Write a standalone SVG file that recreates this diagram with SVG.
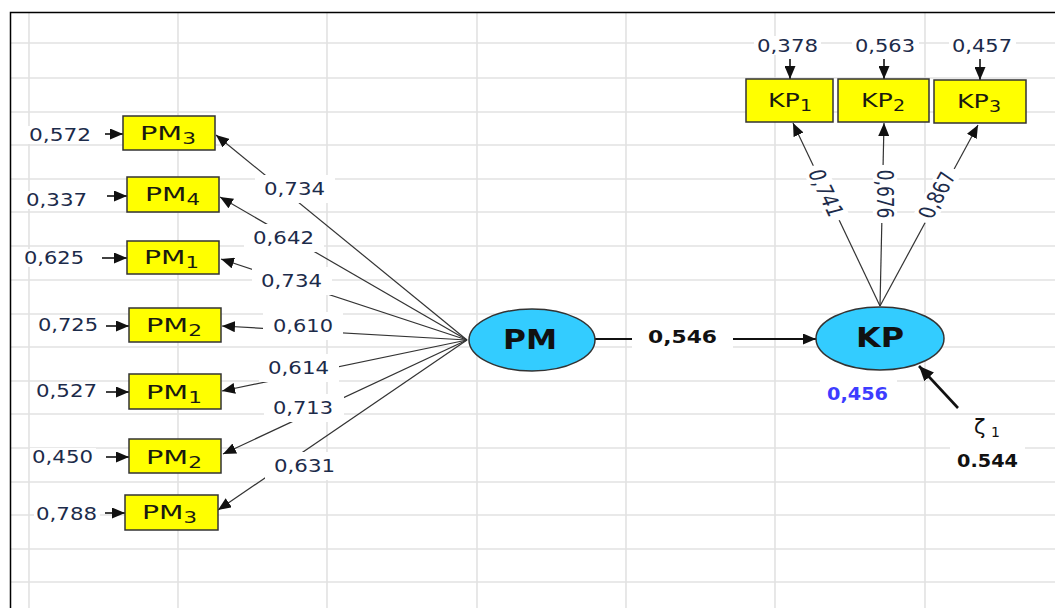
<svg xmlns="http://www.w3.org/2000/svg" width="1055" height="608" viewBox="0 0 1055 608">
<style>
.grid line{stroke:#e2e2e2;stroke-width:1.6}
.box{fill:#ffff00;stroke:#333;stroke-width:1.5}
.ell{fill:#33ccff;stroke:#333;stroke-width:1.5}
.bt{font-family:"DejaVu Sans",sans-serif;font-size:20px;fill:#1a1a10}
.sub{font-size:15px}
.et{font-family:"DejaVu Sans",sans-serif;font-size:26px;font-weight:bold;fill:#111}
.lbl{font-family:"DejaVu Sans",sans-serif;font-size:18px;fill:#1c2b4a}
.rl{font-family:"DejaVu Sans",sans-serif;font-size:17px;fill:#1c2b4a}
.bl{font-family:"DejaVu Sans",sans-serif;font-size:17px;font-weight:bold;fill:#111}
.bg{fill:#fff}
.ln{stroke:#333;stroke-width:1.2;fill:none}
.lk{stroke:#111;stroke-width:1.6;fill:none}
</style>
<defs>
<marker id="ah" markerUnits="userSpaceOnUse" markerWidth="13" markerHeight="11" refX="13" refY="5.5" orient="auto"><path d="M0,0 L13,5.5 L0,11 z" fill="#111"/></marker>
<marker id="ahb" markerUnits="userSpaceOnUse" markerWidth="15" markerHeight="13" refX="15" refY="6.5" orient="auto"><path d="M0,0 L15,6.5 L0,13 z" fill="#111"/></marker>
</defs>
<rect width="1055" height="608" fill="#fff"/>
<g class="grid">
<line x1="29" y1="12" x2="29" y2="608"/><line x1="178" y1="12" x2="178" y2="608"/><line x1="327" y1="12" x2="327" y2="608"/><line x1="477" y1="12" x2="477" y2="608"/><line x1="626" y1="12" x2="626" y2="608"/><line x1="775" y1="12" x2="775" y2="608"/><line x1="925" y1="12" x2="925" y2="608"/>
<line x1="10" y1="43" x2="1055" y2="43"/><line x1="10" y1="78" x2="1055" y2="78"/><line x1="10" y1="112" x2="1055" y2="112"/><line x1="10" y1="145" x2="1055" y2="145"/><line x1="10" y1="179" x2="1055" y2="179"/><line x1="10" y1="212" x2="1055" y2="212"/><line x1="10" y1="246" x2="1055" y2="246"/><line x1="10" y1="280" x2="1055" y2="280"/><line x1="10" y1="314" x2="1055" y2="314"/><line x1="10" y1="347" x2="1055" y2="347"/><line x1="10" y1="381" x2="1055" y2="381"/><line x1="10" y1="414" x2="1055" y2="414"/><line x1="10" y1="448" x2="1055" y2="448"/><line x1="10" y1="482" x2="1055" y2="482"/><line x1="10" y1="515" x2="1055" y2="515"/><line x1="10" y1="549" x2="1055" y2="549"/><line x1="10" y1="582" x2="1055" y2="582"/>
</g>
<path d="M10.5,608 V12.5 H1055" fill="none" stroke="#000" stroke-width="1.5"/>
<g id="connectors">
<line class="lk" x1="105" y1="134" x2="123" y2="134" marker-end="url(#ah)"/>
<line class="lk" x1="107" y1="196" x2="127" y2="196" marker-end="url(#ah)"/>
<line class="lk" x1="102" y1="258" x2="127" y2="258" marker-end="url(#ah)"/>
<line class="lk" x1="106" y1="326" x2="129" y2="326" marker-end="url(#ah)"/>
<line class="lk" x1="106" y1="392" x2="129" y2="392" marker-end="url(#ah)"/>
<line class="lk" x1="106" y1="457" x2="129" y2="457" marker-end="url(#ah)"/>
<line class="lk" x1="105" y1="513" x2="125" y2="513" marker-end="url(#ah)"/>
<line class="ln" x1="467" y1="340" x2="216" y2="135" marker-end="url(#ah)"/>
<line class="ln" x1="467" y1="340" x2="220" y2="197" marker-end="url(#ah)"/>
<line class="ln" x1="467" y1="340" x2="221" y2="259" marker-end="url(#ah)"/>
<line class="ln" x1="467" y1="340" x2="222" y2="326" marker-end="url(#ah)"/>
<line class="ln" x1="467" y1="340" x2="222" y2="391" marker-end="url(#ah)"/>
<line class="ln" x1="467" y1="340" x2="223" y2="454" marker-end="url(#ah)"/>
<line class="ln" x1="467" y1="340" x2="218" y2="510" marker-end="url(#ah)"/>
<line class="ln" x1="880" y1="306" x2="793" y2="123" marker-end="url(#ah)"/>
<line class="ln" x1="880" y1="306" x2="884" y2="123" marker-end="url(#ah)"/>
<line class="ln" x1="880" y1="306" x2="978" y2="125" marker-end="url(#ah)"/>
<line class="lk" x1="790" y1="59" x2="790" y2="79" marker-end="url(#ah)"/>
<line class="lk" x1="884" y1="59" x2="884" y2="79" marker-end="url(#ah)"/>
<line class="lk" x1="980" y1="59" x2="980" y2="80" marker-end="url(#ah)"/>
<line x1="595" y1="339" x2="816" y2="339" stroke="#111" stroke-width="2.2" marker-end="url(#ah)"/>
<line x1="958" y1="408" x2="919" y2="366" stroke="#111" stroke-width="2.6" marker-end="url(#ahb)"/>
<g>
<rect class="bg" x="255" y="175" width="80" height="28"/><text class="lbl" x="264" y="195" textLength="61" lengthAdjust="spacingAndGlyphs">0,734</text>
<rect class="bg" x="244" y="224" width="80" height="28"/><text class="lbl" x="253" y="244" textLength="61" lengthAdjust="spacingAndGlyphs">0,642</text>
<rect class="bg" x="252" y="267" width="80" height="28"/><text class="lbl" x="261" y="287" textLength="61" lengthAdjust="spacingAndGlyphs">0,734</text>
<rect class="bg" x="263" y="312" width="80" height="28"/><text class="lbl" x="273" y="332" textLength="60" lengthAdjust="spacingAndGlyphs">0,610</text>
<rect class="bg" x="259" y="354" width="80" height="28"/><text class="lbl" x="268" y="374" textLength="61" lengthAdjust="spacingAndGlyphs">0,614</text>
<rect class="bg" x="264" y="394" width="80" height="28"/><text class="lbl" x="273" y="414" textLength="60" lengthAdjust="spacingAndGlyphs">0,713</text>
<rect class="bg" x="265" y="452" width="80" height="28"/><text class="lbl" x="274" y="472" textLength="61" lengthAdjust="spacingAndGlyphs">0,631</text>
<rect class="bg" x="27" y="126" width="66" height="18"/><text class="lbl" x="29" y="141" textLength="62" lengthAdjust="spacingAndGlyphs">0,572</text>
<rect class="bg" x="24" y="191" width="66" height="18"/><text class="lbl" x="26" y="206" textLength="61" lengthAdjust="spacingAndGlyphs">0,337</text>
<rect class="bg" x="22" y="249" width="66" height="18"/><text class="lbl" x="24" y="264" textLength="60" lengthAdjust="spacingAndGlyphs">0,625</text>
<rect class="bg" x="36" y="316" width="66" height="18"/><text class="lbl" x="38" y="331" textLength="60" lengthAdjust="spacingAndGlyphs">0,725</text>
<rect class="bg" x="34" y="382" width="66" height="18"/><text class="lbl" x="36" y="397" textLength="61" lengthAdjust="spacingAndGlyphs">0,527</text>
<rect class="bg" x="30" y="448" width="66" height="18"/><text class="lbl" x="32" y="463" textLength="61" lengthAdjust="spacingAndGlyphs">0,450</text>
<rect class="bg" x="34" y="505" width="66" height="18"/><text class="lbl" x="36" y="520" textLength="61" lengthAdjust="spacingAndGlyphs">0,788</text>
<rect class="bg" x="754" y="36" width="67" height="19"/><text class="lbl" x="757" y="52" textLength="61" lengthAdjust="spacingAndGlyphs">0,378</text>
<rect class="bg" x="852" y="36" width="67" height="19"/><text class="lbl" x="855" y="52" textLength="60" lengthAdjust="spacingAndGlyphs">0,563</text>
<rect class="bg" x="949" y="36" width="67" height="19"/><text class="lbl" x="952" y="52" textLength="60" lengthAdjust="spacingAndGlyphs">0,457</text>
<rect class="bg" x="632" y="327" width="101" height="26"/><text class="bl" x="648" y="343" textLength="69" lengthAdjust="spacingAndGlyphs">0,546</text>
<rect class="bg" x="820" y="380" width="77" height="26"/><text class="bl" x="827" y="400" textLength="61" lengthAdjust="spacingAndGlyphs" style="fill:#3d3dff">0,456</text>
<rect class="bg" x="950" y="446" width="75" height="26"/><text class="bl" x="957" y="467" textLength="61" lengthAdjust="spacingAndGlyphs">0.544</text>
<text font-family="DejaVu Sans, sans-serif" font-size="21" fill="#111" x="974" y="434">ζ<tspan font-size="14" x="991" y="437">1</tspan></text>
<g transform="translate(826,193) scale(1.35,1) rotate(70.5)"><rect class="bg" x="-29" y="-9" width="58" height="18"/><text class="rl" x="0" y="6" text-anchor="middle">0,741</text></g>
<g transform="translate(885,194) scale(1.35,1) rotate(90)"><rect class="bg" x="-29" y="-9" width="58" height="18"/><text class="rl" x="0" y="6" text-anchor="middle">0,676</text></g>
<g transform="translate(937,195) scale(1.35,1) rotate(-68)"><rect class="bg" x="-29" y="-9" width="58" height="18"/><text class="rl" x="0" y="6" text-anchor="middle">0,867</text></g>
</g>
</g>
<g id="PM3a"><rect class="box" x="123" y="116" width="92" height="34"/><text class="bt" x="140" y="140" textLength="56" lengthAdjust="spacingAndGlyphs">PM<tspan class="sub" dy="4">3</tspan></text></g>
<g id="PM4"><rect class="box" x="127" y="177" width="92" height="35"/><text class="bt" x="145" y="201" textLength="55" lengthAdjust="spacingAndGlyphs">PM<tspan class="sub" dy="4">4</tspan></text></g>
<g id="PM1a"><rect class="box" x="127" y="241" width="92" height="33"/><text class="bt" x="144" y="264" textLength="55" lengthAdjust="spacingAndGlyphs">PM<tspan class="sub" dy="4">1</tspan></text></g>
<g id="PM2a"><rect class="box" x="129" y="308" width="92" height="34"/><text class="bt" x="146" y="332" textLength="56" lengthAdjust="spacingAndGlyphs">PM<tspan class="sub" dy="4">2</tspan></text></g>
<g id="PM1b"><rect class="box" x="129" y="374" width="92" height="35"/><text class="bt" x="146" y="399" textLength="56" lengthAdjust="spacingAndGlyphs">PM<tspan class="sub" dy="4">1</tspan></text></g>
<g id="PM2b"><rect class="box" x="129" y="439" width="92" height="34"/><text class="bt" x="146" y="464" textLength="56" lengthAdjust="spacingAndGlyphs">PM<tspan class="sub" dy="4">2</tspan></text></g>
<g id="PM3b"><rect class="box" x="125" y="495" width="93" height="35"/><text class="bt" x="142" y="519" textLength="55" lengthAdjust="spacingAndGlyphs">PM<tspan class="sub" dy="4">3</tspan></text></g>
<g id="KP1"><rect class="box" x="746" y="79" width="87" height="43"/><text class="bt" x="768" y="107" textLength="44" lengthAdjust="spacingAndGlyphs">KP<tspan class="sub" dy="4">1</tspan></text></g>
<g id="KP2"><rect class="box" x="838" y="79" width="91" height="43"/><text class="bt" x="861" y="107" textLength="44" lengthAdjust="spacingAndGlyphs">KP<tspan class="sub" dy="4">2</tspan></text></g>
<g id="KP3"><rect class="box" x="934" y="80" width="92" height="43"/><text class="bt" x="957" y="108" textLength="44" lengthAdjust="spacingAndGlyphs">KP<tspan class="sub" dy="4">3</tspan></text></g>
<g id="PM"><ellipse class="ell" cx="532" cy="340" rx="63" ry="31"/><text class="et" x="503" y="349" textLength="54" lengthAdjust="spacingAndGlyphs">PM</text></g>
<g id="KP"><ellipse class="ell" cx="880" cy="338.5" rx="64" ry="31.5"/><text class="et" x="856" y="347" textLength="48" lengthAdjust="spacingAndGlyphs">KP</text></g>
</svg>
